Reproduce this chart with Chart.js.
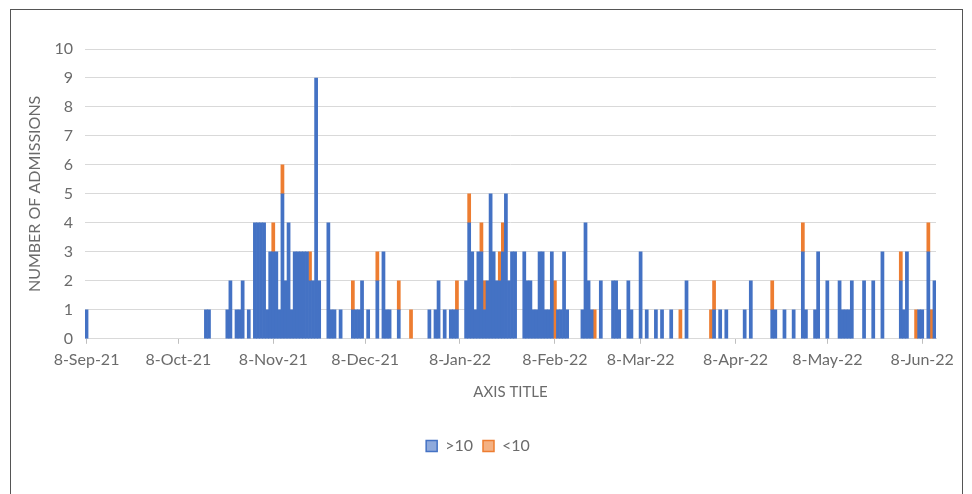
<!DOCTYPE html>
<html><head><meta charset="utf-8">
<script src="https://cdn.jsdelivr.net/npm/chart.js@4.4.1/dist/chart.umd.min.js"></script>
<style>
html,body{margin:0;padding:0;background:#fff;width:972px;height:494px;overflow:hidden}
#frame{position:absolute;left:10px;top:9px;width:953px;height:500px;border:1px solid #555;box-sizing:border-box}
#wrap{position:absolute;left:0;top:0;width:972px;height:494px}
</style></head><body>
<div id="frame"></div>
<div id="wrap"><canvas id="c" width="972" height="494"></canvas></div>
<script>
// Daily categories start on 8-Sep-21 and run for 278 days (to 12-Jun-22)
const startDate = [2021, 8, 8]; // year, monthIndex, day
const dayCount = 278;
const monthNames = ['Jan','Feb','Mar','Apr','May','Jun','Jul','Aug','Sep','Oct','Nov','Dec'];
const seriesNames = ['>10', '<10'];
const seriesColors = ['#4472C4', '#ED7D31'];
const legendFill = ['#8FAADC', '#F4B183'];
const xTitle = 'AXIS TITLE';
const yTitle = 'NUMBER OF ADMISSIONS';

// admissions per day, series ">10"
const over10 = [
 1,0,0,0,0,0,0,0,0,0,
 0,0,0,0,0,0,0,0,0,0,
 0,0,0,0,0,0,0,0,0,0,
 0,0,0,0,0,0,0,0,0,1,
 1,0,0,0,0,0,1,2,0,1,
 1,2,0,1,0,4,4,4,4,1,
 3,3,3,1,5,2,4,1,3,3,
 3,3,3,2,2,9,2,0,0,4,
 1,1,0,1,0,0,0,1,1,1,
 2,0,1,0,0,2,0,3,1,1,
 0,0,1,0,0,0,0,0,0,0,
 0,0,1,0,1,2,0,1,0,1,
 1,1,0,0,2,4,3,1,3,3,
 1,2,5,3,2,2,3,5,2,3,
 3,0,0,3,2,2,1,1,3,3,
 1,1,3,0,1,1,3,1,0,0,
 0,0,1,4,2,1,0,0,2,0,
 0,0,2,2,1,0,0,2,1,0,
 0,3,0,1,0,0,1,0,1,0,
 0,1,0,0,0,0,2,0,0,0,
 0,0,0,0,0,1,0,1,0,1,
 0,0,0,0,0,1,0,2,0,0,
 0,0,0,0,1,1,0,0,1,0,
 0,1,0,0,3,1,0,0,1,3,
 0,0,2,0,0,0,2,1,1,1,
 2,0,0,0,2,0,0,2,0,0,
 3,0,0,0,0,0,2,1,3,0,
 0,0,1,1,0,3,0,2
];
// admissions per day, series "<10"
const under10 = [
 0,0,0,0,0,0,0,0,0,0,
 0,0,0,0,0,0,0,0,0,0,
 0,0,0,0,0,0,0,0,0,0,
 0,0,0,0,0,0,0,0,0,0,
 0,0,0,0,0,0,0,0,0,0,
 0,0,0,0,0,0,0,0,0,0,
 0,1,0,0,1,0,0,0,0,0,
 0,0,0,1,0,0,0,0,0,0,
 0,0,0,0,0,0,0,1,0,0,
 0,0,0,0,0,1,0,0,0,0,
 0,0,1,0,0,0,1,0,0,0,
 0,0,0,0,0,0,0,0,0,0,
 0,1,0,0,0,1,0,0,0,1,
 1,0,0,0,0,1,1,0,0,0,
 0,0,0,0,0,0,0,0,0,0,
 0,0,0,2,0,0,0,0,0,0,
 0,0,0,0,0,0,1,0,0,0,
 0,0,0,0,0,0,0,0,0,0,
 0,0,0,0,0,0,0,0,0,0,
 0,0,0,0,1,0,0,0,0,0,
 0,0,0,0,1,1,0,0,0,0,
 0,0,0,0,0,0,0,0,0,0,
 0,0,0,0,1,0,0,0,0,0,
 0,0,0,0,1,0,0,0,0,0,
 0,0,0,0,0,0,0,0,0,0,
 0,0,0,0,0,0,0,0,0,0,
 0,0,0,0,0,0,1,0,0,0,
 0,1,0,0,0,1,1,0
];
const yTickValues = [0,1,2,3,4,5,6,7,8,9,10];

// build the daily category labels
const labels = [];
const showTick = [];
for (let i = 0; i < dayCount; i++) {
  const d = new Date(startDate[0], startDate[1], startDate[2] + i);
  labels.push(d.getDate() + '-' + monthNames[d.getMonth()] + '-' + String(d.getFullYear()).slice(2));
  showTick.push(d.getDate() === 8);
}
// days without admissions draw nothing
const nz = (arr) => arr.map(v => (v === 0 ? null : v));

const font = 'Lato, "Open Sans", sans-serif';
const grey = '#6b6b6b';

new Chart(document.getElementById('c'), {
  type: 'bar',
  data: {
    labels: labels,
    datasets: [
      { label: seriesNames[0], data: nz(over10), backgroundColor: seriesColors[0], borderWidth: 0, barPercentage: 1, categoryPercentage: 1 },
      { label: seriesNames[1], data: nz(under10), backgroundColor: seriesColors[1], borderWidth: 0, barPercentage: 1, categoryPercentage: 1 }
    ]
  },
  options: {
    responsive: false,
    animation: false,
    layout: { padding: { left: 20, right: 36, top: 49, bottom: 30 } },
    plugins: {
      tooltip: { enabled: false },
      legend: {
        position: 'bottom',
        labels: {
          font: { family: font, size: 16 }, color: grey,
          boxWidth: 11, boxHeight: 11, padding: 10,
          generateLabels: (chart) => seriesNames.map((n, i) => ({
            text: n, fillStyle: legendFill[i], strokeStyle: seriesColors[i], lineWidth: 1.5,
            fontColor: grey, datasetIndex: i, hidden: false
          }))
        }
      }
    },
    scales: {
      x: {
        stacked: true,
        grid: {
          display: true, drawOnChartArea: false, drawTicks: true, tickLength: 5, offset: false,
          color: (ctx) => (showTick[ctx.index] ? '#bfbfbf' : 'rgba(0,0,0,0)')
        },
        border: { display: true, color: '#d9d9d9' },
        ticks: {
          autoSkip: false, maxRotation: 0, minRotation: 0, padding: 6,
          color: grey, font: { family: font, size: 16 },
          callback: (v, i) => (showTick[i] ? labels[i] : '')
        },
        title: { display: true, text: xTitle, color: grey, font: { family: font, size: 15 }, padding: { top: 8, bottom: 27 } }
      },
      y: {
        stacked: true, min: 0, max: 10,
        afterBuildTicks: (s) => { s.ticks = yTickValues.map(v => ({ value: v })); },
        afterFit: (s) => { s.width = 65; },
        grid: { color: '#d9d9d9', drawTicks: false },
        border: { display: false },
        ticks: { color: grey, font: { family: font, size: 16 }, padding: 12 },
        title: { display: true, text: yTitle, color: grey, font: { family: font, size: 16 }, padding: { top: 5, bottom: 0 } }
      }
    }
  }
});
</script>
</body></html>
